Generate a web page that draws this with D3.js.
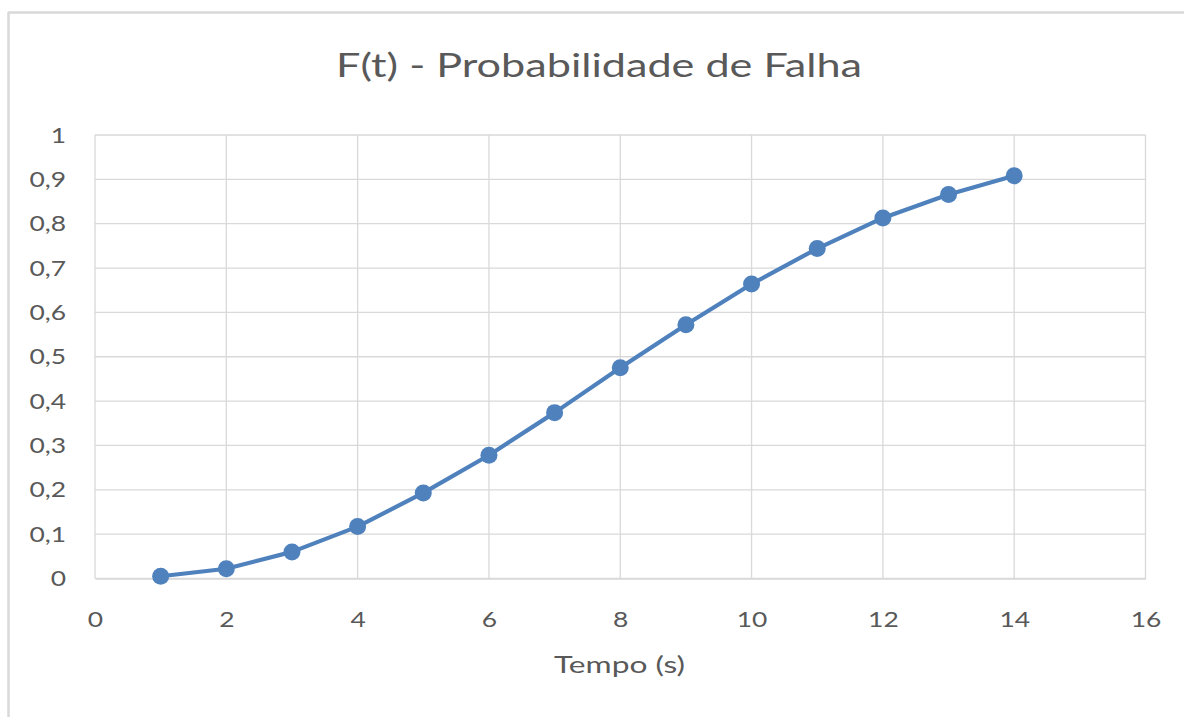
<!DOCTYPE html>
<html><head><meta charset="utf-8">
<script src="https://cdn.jsdelivr.net/npm/d3@7"></script>
<style>html,body{margin:0;padding:0;background:#fff;}svg{display:block;}</style>
</head><body>
<script>
const tempo = [1,2,3,4,5,6,7,8,9,10,11,12,13,14];
const prob = [0.005,0.022,0.06,0.117,0.193,0.278,0.374,0.475,0.572,0.664,0.744,0.813,0.866,0.908];
const xTicks = [0,2,4,6,8,10,12,14,16];
const yTicks = [0,0.1,0.2,0.3,0.4,0.5,0.6,0.7,0.8,0.9,1];
const title = "F(t) - Probabilidade de Falha";
const xTitle = "Tempo (s)";

const W = 1184, H = 717;
const svg = d3.select("body").append("svg").attr("width", W).attr("height", H);
const font = "Lato, 'Open Sans', sans-serif";
const textColor = "#595959";
const gridColor = "#d9d9d9";
const sx = 1.2; // horizontal stretch of glyphs

svg.append("line").attr("x1",8).attr("x2",W).attr("y1",12.5).attr("y2",12.5).attr("stroke","#d9d9d9").attr("stroke-width",2.5);
svg.append("line").attr("x1",8.5).attr("x2",8.5).attr("y1",12).attr("y2",H).attr("stroke","#d9d9d9").attr("stroke-width",2.5);

const x = d3.scaleLinear().domain([0,16]).range([95,1145.5]);
const y = d3.scaleLinear().domain([0,1]).range([578.5,135]);

svg.append("g").selectAll("line").data(yTicks).join("line")
  .attr("x1",x(0)).attr("x2",x(16)).attr("y1",d=>y(d)).attr("y2",d=>y(d))
  .attr("stroke",gridColor).attr("stroke-width",1.3);
svg.append("g").selectAll("line").data(xTicks).join("line")
  .attr("x1",d=>x(d)).attr("x2",d=>x(d)).attr("y1",y(0)).attr("y2",y(1))
  .attr("stroke",gridColor).attr("stroke-width",1.3);

const fmt = d => String(d).replace(".", ",");
const yPad = 29;
const yAxis = svg.append("g").attr("transform",`translate(${x(0)},0)`)
  .call(d3.axisLeft(y).tickValues(yTicks).tickFormat(fmt).tickSize(0).tickPadding(yPad));
yAxis.select(".domain").remove();
yAxis.selectAll("text").attr("font-family",font).attr("font-size",22).attr("fill",textColor)
  .attr("transform",`translate(${-yPad},0) scale(${sx},1) translate(${yPad},0)`);

const xAxis = svg.append("g").attr("transform",`translate(0,${y(0)})`)
  .call(d3.axisBottom(x).tickValues(xTicks).tickFormat(d=>d).tickSize(0).tickPadding(33));
xAxis.select(".domain").attr("stroke",gridColor).attr("stroke-width",1.5);
xAxis.selectAll("text").attr("font-family",font).attr("font-size",22).attr("fill",textColor)
  .attr("transform",`scale(${sx},1)`);

const pts = tempo.map((t,i)=>({t, v: prob[i]}));
svg.append("path").datum(pts)
  .attr("d", d3.line().x(d=>x(d.t)).y(d=>y(d.v)))
  .attr("fill","none").attr("stroke","#4f81bd").attr("stroke-width",4.2).attr("stroke-linejoin","round");
svg.append("g").selectAll("circle").data(pts).join("circle")
  .attr("cx",d=>x(d.t)).attr("cy",d=>y(d.v)).attr("r",8.5).attr("fill","#4f81bd");

svg.append("text").attr("x",599).attr("y",77).attr("text-anchor","middle")
  .attr("font-family",font).attr("font-size",33).attr("fill",textColor)
  .attr("textLength",526).attr("lengthAdjust","spacingAndGlyphs").text(title);
svg.append("text").attr("x",619.5).attr("y",673).attr("text-anchor","middle")
  .attr("font-family",font).attr("font-size",23.5).attr("fill",textColor)
  .attr("textLength",131).attr("lengthAdjust","spacingAndGlyphs").text(xTitle);
</script>
</body></html>
